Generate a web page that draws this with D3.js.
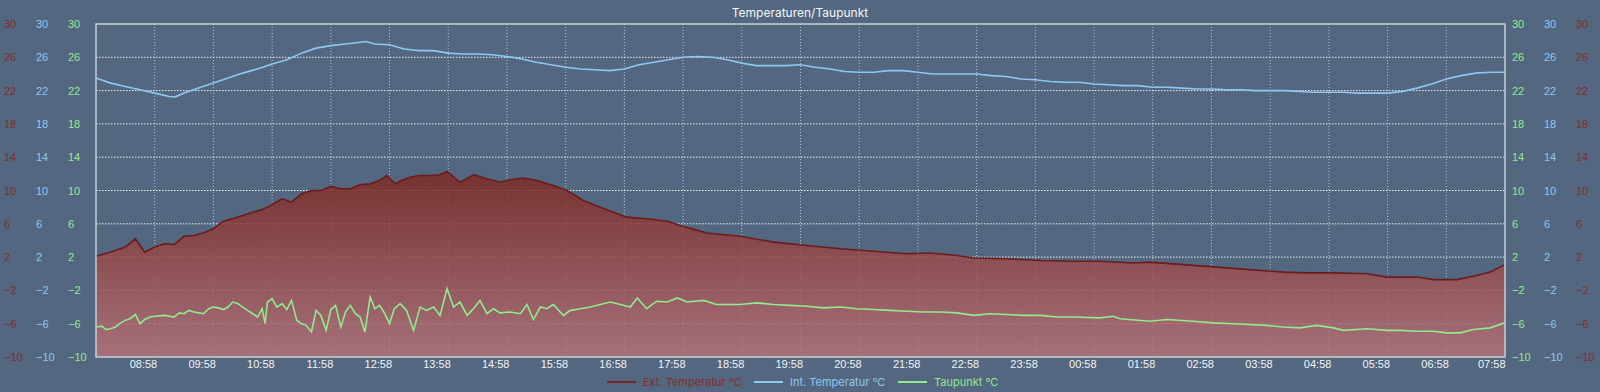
<!DOCTYPE html>
<head>
  <meta charset="utf-8" />
  <script src="https://cdn.jsdelivr.net/npm/d3@7"></script>
  <style>
    body { margin: 0; background: #536780; }
    svg { display: block; font-family: Inter, "Liberation Sans", Arial, sans-serif; }
  </style>
</head>
<body>
  <svg class="chart" width="1600" height="392"></svg>
  <script>
    // hours after 07:58, value in °C
    const extTemp = [[0,2.1],[0.25,2.6],[0.5,3.2],[0.67,4.2],[0.83,2.6],[1,3.2],[1.17,3.6],[1.33,3.5],[1.5,4.5],[1.67,4.6],[1.83,4.9],[2,5.4],[2.17,6.3],[2.33,6.6],[2.5,7.0],[2.67,7.4],[2.83,7.7],[3,8.3],[3.17,9.0],[3.33,8.6],[3.5,9.6],[3.67,10.0],[3.83,10.0],[4,10.5],[4.17,10.2],[4.33,10.2],[4.5,10.7],[4.67,10.8],[4.83,11.2],[4.95,11.8],[5.1,10.8],[5.2,11.2],[5.35,11.6],[5.5,11.8],[5.7,11.8],[5.85,11.9],[5.98,12.3],[6.2,11.0],[6.43,11.9],[6.66,11.4],[6.88,11.0],[7.05,11.3],[7.28,11.5],[7.51,11.2],[7.79,10.6],[8.02,10.0],[8.3,8.8],[8.59,8.0],[8.82,7.4],[9.04,6.8],[9.38,6.6],[9.73,6.3],[9.95,5.8],[10.2,5.3],[10.4,4.9],[10.97,4.5],[11.54,3.8],[12.11,3.4],[12.68,3.0],[13.24,2.7],[13.81,2.4],[14.21,2.5],[14.67,2.2],[14.95,1.9],[15.52,1.8],[16.09,1.6],[16.65,1.5],[17.1,1.5],[17.67,1.3],[17.95,1.4],[18.52,1.1],[19.09,0.8],[19.66,0.5],[20.23,0.2],[20.62,0.1],[21.08,0.1],[21.65,0.0],[21.99,-0.4],[22.5,-0.4],[22.78,-0.7],[23.18,-0.7],[23.46,-0.3],[23.75,0.2],[24,1.1]];

    const intTemp = [[0,23.5],[0.25,22.9],[0.5,22.5],[0.75,22.1],[1,21.7],[1.25,21.3],[1.35,21.25],[1.5,21.7],[1.75,22.3],[2,22.9],[2.25,23.5],[2.5,24.1],[2.75,24.6],[3,25.2],[3.25,25.7],[3.5,26.5],[3.75,27.1],[4,27.4],[4.25,27.6],[4.5,27.8],[4.6,27.9],[4.75,27.6],[5,27.5],[5.25,27.0],[5.5,26.8],[5.75,26.8],[6,26.5],[6.25,26.4],[6.5,26.4],[6.75,26.3],[7,26.1],[7.25,25.8],[7.5,25.4],[7.75,25.1],[8,24.8],[8.25,24.6],[8.5,24.5],[8.75,24.4],[9,24.6],[9.25,25.1],[9.5,25.4],[9.75,25.7],[10,26.0],[10.25,26.1],[10.5,26.0],[10.75,25.7],[11,25.3],[11.25,25.0],[11.5,25.0],[11.75,25.0],[12,25.1],[12.25,24.8],[12.5,24.6],[12.75,24.3],[13,24.2],[13.25,24.2],[13.5,24.4],[13.75,24.4],[14,24.2],[14.25,24.0],[14.5,24.0],[14.75,24.0],[15,24.0],[15.25,23.8],[15.5,23.7],[15.75,23.4],[16,23.3],[16.25,23.1],[16.5,23.0],[16.75,23.0],[17,22.8],[17.25,22.7],[17.5,22.6],[17.75,22.6],[18,22.4],[18.25,22.4],[18.5,22.3],[18.75,22.2],[19,22.2],[19.25,22.1],[19.5,22.1],[19.75,22.0],[20,22.0],[20.25,22.0],[20.5,21.9],[20.75,21.8],[21,21.8],[21.25,21.8],[21.5,21.7],[21.75,21.7],[22,21.7],[22.25,21.9],[22.5,22.3],[22.75,22.8],[23,23.4],[23.25,23.8],[23.5,24.1],[23.75,24.2],[24,24.2]];

    const dewPoint = [[0,-6.4],[0.1,-6.3],[0.17,-6.7],[0.25,-6.6],[0.33,-6.4],[0.42,-5.9],[0.5,-5.6],[0.58,-5.4],[0.67,-4.9],[0.75,-6.0],[0.83,-5.5],[0.92,-5.2],[1,-5.1],[1.17,-5.0],[1.33,-5.2],[1.42,-4.7],[1.5,-4.8],[1.58,-4.4],[1.67,-4.6],[1.75,-4.7],[1.83,-4.8],[1.92,-4.2],[2,-4.0],[2.08,-4.1],[2.17,-4.3],[2.25,-4.0],[2.33,-3.4],[2.42,-3.6],[2.5,-4.0],[2.58,-4.4],[2.67,-4.8],[2.75,-5.2],[2.83,-4.2],[2.88,-6.0],[2.92,-3.4],[3,-3.0],[3.08,-4.0],[3.17,-3.6],[3.25,-4.3],[3.33,-3.2],[3.42,-5.6],[3.5,-6.0],[3.58,-6.2],[3.67,-7.0],[3.75,-4.4],[3.83,-5.0],[3.92,-6.8],[4,-4.3],[4.08,-3.8],[4.17,-6.4],[4.25,-4.6],[4.33,-3.8],[4.42,-4.8],[4.5,-5.2],[4.58,-7.0],[4.67,-2.8],[4.75,-4.2],[4.83,-3.8],[4.92,-4.8],[5,-6.0],[5.08,-4.2],[5.18,-3.6],[5.29,-4.4],[5.41,-6.8],[5.52,-4.0],[5.63,-4.4],[5.75,-4.0],[5.86,-5.0],[5.98,-1.8],[6.09,-4.0],[6.2,-3.4],[6.32,-5.0],[6.43,-4.2],[6.54,-3.2],[6.66,-4.8],[6.77,-4.2],[6.88,-4.7],[7.05,-4.6],[7.23,-4.8],[7.34,-3.7],[7.45,-5.5],[7.57,-4.0],[7.68,-4.2],[7.79,-3.7],[7.96,-5.0],[8.08,-4.4],[8.25,-4.2],[8.42,-4.0],[8.59,-3.7],[8.76,-3.4],[8.93,-3.7],[9.1,-4.0],[9.22,-2.9],[9.38,-4.2],[9.55,-3.3],[9.73,-3.4],[9.9,-2.9],[10.07,-3.4],[10.35,-3.2],[10.57,-3.7],[10.97,-3.7],[11.26,-3.5],[11.54,-3.7],[11.82,-3.8],[12.11,-3.9],[12.39,-4.1],[12.68,-4.0],[12.96,-4.2],[13.24,-4.3],[13.53,-4.4],[13.81,-4.5],[14.1,-4.6],[14.38,-4.6],[14.67,-4.7],[14.95,-5.0],[15.23,-4.8],[15.52,-4.9],[15.8,-5.0],[16.09,-5.0],[16.37,-5.2],[16.65,-5.2],[17.1,-5.3],[17.33,-5.1],[17.44,-5.4],[17.95,-5.7],[18.24,-5.5],[18.69,-5.7],[19.03,-5.9],[19.37,-6.0],[19.94,-6.2],[20.23,-6.4],[20.51,-6.5],[20.79,-6.2],[21.08,-6.5],[21.25,-6.8],[21.65,-6.6],[21.99,-6.8],[22.21,-6.8],[22.5,-6.9],[22.78,-6.9],[23.01,-7.1],[23.24,-7.1],[23.46,-6.7],[23.75,-6.5],[24,-5.9]];

    const yTicks = [-10, -6, -2, 2, 6, 10, 14, 18, 22, 26, 30];
    const seriesNames = ["Ext. Temperatur °C", "Int. Temperatur °C", "Taupunkt °C"];
    const title = "Temperaturen/Taupunkt";

    const colors = { ext: "#7a2626", extText: "#8a2a2a", int: "#8ec8f0", dew: "#92ea8c" };

    const margin = { top: 24, right: 95, bottom: 35, left: 96 };
    const W = 1600, H = 392;
    const start = new Date(2024, 0, 1, 7, 58);
    const t = (h) => new Date(start.getTime() + h * 3600e3);

    const x = d3.scaleTime().domain([start, t(24)]).range([margin.left, W - margin.right]);
    const y = d3.scaleLinear().domain([-10, 30]).range([H - margin.bottom, margin.top]);
    const hourTicks = d3.range(1, 25).map(t);

    const svg = d3.select(".chart");

    const defs = svg.append("defs");
    const grad = defs.append("linearGradient").attr("id", "extFill")
      .attr("gradientUnits", "userSpaceOnUse")
      .attr("x1", 0).attr("x2", 0).attr("y1", y(12)).attr("y2", y(-10));
    grad.append("stop").attr("offset", 0).attr("stop-color", "#7e2823");
    grad.append("stop").attr("offset", 1).attr("stop-color", "#b67379");

    // grid
    const grid = svg.append("g");
    grid.selectAll(".hg").data(yTicks.slice(1, -1)).enter().append("line")
      .attr("x1", margin.left).attr("x2", W - margin.right)
      .attr("y1", (d) => y(d)).attr("y2", (d) => y(d))
      .attr("stroke", "#ffffff").attr("stroke-opacity", 0.9)
      .attr("stroke-width", 1).attr("stroke-dasharray", "1.5,1.5");
    grid.selectAll(".vg").data(hourTicks.slice(0, -1)).enter().append("line")
      .attr("x1", (d) => x(d)).attr("x2", (d) => x(d))
      .attr("y1", margin.top).attr("y2", H - margin.bottom)
      .attr("stroke", "#ffffff").attr("stroke-opacity", 0.6)
      .attr("stroke-width", 1).attr("stroke-dasharray", "1,2");

    // ext temperature area
    const area = d3.area().x((d) => x(t(d[0]))).y0(y(-10)).y1((d) => y(d[1]));
    const line = d3.line().x((d) => x(t(d[0]))).y((d) => y(d[1]));

    svg.append("path").datum(extTemp).attr("d", area)
      .attr("fill", "url(#extFill)").attr("fill-opacity", 0.84);
    svg.append("path").datum(extTemp).attr("d", line)
      .attr("fill", "none").attr("stroke", "#6a1d1b").attr("stroke-width", 1.6);

    svg.append("path").datum(intTemp).attr("d", line)
      .attr("fill", "none").attr("stroke", colors.int).attr("stroke-width", 1.6);
    svg.append("path").datum(dewPoint).attr("d", line)
      .attr("fill", "none").attr("stroke", colors.dew).attr("stroke-width", 1.6);

    // frame
    svg.append("rect")
      .attr("x", margin.left).attr("y", margin.top)
      .attr("width", W - margin.left - margin.right).attr("height", H - margin.top - margin.bottom)
      .attr("fill", "none").attr("stroke", "#c9ced6").attr("stroke-width", 1.5);

    // y axes (three on each side)
    const yAxisAt = (xPos, color) => {
      const g = svg.append("g").attr("transform", `translate(${xPos},0)`)
        .call(d3.axisLeft(y).tickValues(yTicks).tickSize(0).tickPadding(0));
      g.select(".domain").remove();
      g.selectAll("text").attr("text-anchor", "start").attr("x", 0)
        .attr("fill", color).attr("font-size", 11).attr("font-family", null);
    };
    yAxisAt(4, colors.extText);
    yAxisAt(36, colors.int);
    yAxisAt(68, colors.dew);
    yAxisAt(1512, colors.dew);
    yAxisAt(1544, colors.int);
    yAxisAt(1576, colors.extText);

    // x axis
    const xg = svg.append("g").attr("transform", `translate(0,${H - margin.bottom})`)
      .call(d3.axisBottom(x).tickValues(hourTicks).tickFormat(d3.timeFormat("%H:%M")).tickSize(0).tickPadding(3));
    xg.select(".domain").remove();
    xg.selectAll("text").attr("text-anchor", "end").attr("dx", (d, i) => (i === hourTicks.length - 1 ? 0 : 2))
      .attr("fill", "#f2f4f7").attr("font-size", 11).attr("font-family", null);

    // title
    svg.append("text").attr("x", 800).attr("y", 17).attr("text-anchor", "middle")
      .attr("fill", "#f4f6f8").attr("font-size", 12).text(title);

    // legend
    const legendItems = [
      { name: seriesNames[0], line: colors.ext, text: colors.extText, x: 607 },
      { name: seriesNames[1], line: colors.int, text: colors.int, x: 754 },
      { name: seriesNames[2], line: colors.dew, text: colors.dew, x: 898 }
    ];
    const lg = svg.append("g").selectAll("g").data(legendItems).enter().append("g")
      .attr("transform", (d) => `translate(${d.x},382)`);
    lg.append("line").attr("x1", 0).attr("x2", 29).attr("y1", 0).attr("y2", 0)
      .attr("stroke", (d) => d.line).attr("stroke-width", 2);
    lg.append("text").attr("x", 36).attr("y", 4).attr("font-size", 11)
      .attr("fill", (d) => d.text).text((d) => d.name);
  </script>
</body>
